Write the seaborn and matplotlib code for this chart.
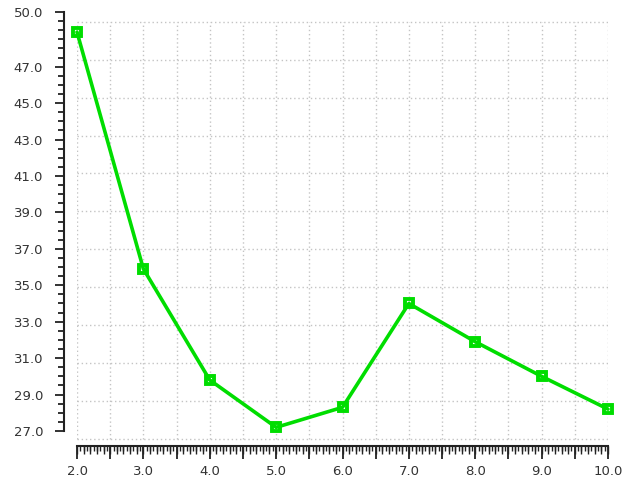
import numpy as np
import matplotlib
matplotlib.use("Agg")
import matplotlib.pyplot as plt
import seaborn as sns
from matplotlib.ticker import FixedLocator, FuncFormatter, NullFormatter

x_vals = [2, 3, 4, 5, 6, 7, 8, 9, 10]
y_vals = [48.9, 35.9, 29.8, 27.2, 28.3, 34.0, 31.9, 30.0, 28.2]
y_tick_vals = [27, 29, 31, 33, 35, 37, 39, 41, 43, 45, 47, 50]
x_tick_vals = [2, 3, 4, 5, 6, 7, 8, 9, 10]

sns.set_style("white")
plt.rcParams['font.family'] = ['DejaVu Sans']

W, H = 622, 479
fig = plt.figure(figsize=(W / 100, H / 100), dpi=100)
left, right, top_px, bot_px = 77, 608, 12, 446
ax = fig.add_axes([left / W, (H - bot_px) / H, (right - left) / W, (bot_px - top_px) / H])

ppu = 18.215
ymin = 27 - (bot_px - 431) / ppu
ymax = 27 + (431 - top_px) / ppu
ax.set_xlim(2, 10)
ax.set_ylim(ymin, ymax)

# plot-area dotted grid
grid_bot = 27 - (439 - 431) / ppu
grid_top = 27 + (431 - 21.7) / ppu
gc = "#c4c4c4"
for gx in np.arange(2, 10.01, 0.5):
    ax.plot([gx, gx], [grid_bot, grid_top], ls=(0, (1, 2)), color=gc, lw=1.0, zorder=1)
for gy in np.linspace(grid_bot, grid_top, 12):
    ax.plot([2, 10], [gy, gy], ls=(0, (1, 2)), color=gc, lw=1.0, zorder=1)

green = "#00dd00"
sns.lineplot(x=x_vals, y=y_vals, ax=ax, color=green, linewidth=2.6, marker='s',
             markersize=5.8, markerfacecolor='none', markeredgecolor=green,
             markeredgewidth=2.8, zorder=5, clip_on=False)

for s in ['top', 'right']:
    ax.spines[s].set_visible(False)
ax.spines['left'].set_position(('outward', 9.4))
ax.spines['left'].set_bounds(27, 50)
ax.spines['bottom'].set_bounds(2, 10)
for s in ['left', 'bottom']:
    ax.spines[s].set_color('#222222')
    ax.spines[s].set_linewidth(1.5)

ax.yaxis.set_major_locator(FixedLocator(y_tick_vals))
ax.yaxis.set_major_formatter(FuncFormatter(lambda v, p: f"{v:.1f}"))
ax.yaxis.set_minor_locator(FixedLocator(np.arange(27, 50.01, 0.5)))
ax.tick_params(axis='y', which='major', direction='out', length=6.5, width=1.3,
               color='#222222', labelsize=9.5, labelcolor='#333333', pad=8.5, left=True)
ax.tick_params(axis='y', which='minor', direction='out', length=4.3, width=1.3,
               color='#222222', left=True)

ax.xaxis.set_major_locator(FixedLocator(np.arange(2, 10.01, 0.5)))
ax.xaxis.set_major_formatter(FuncFormatter(
    lambda v, p: f"{v:.1f}" if abs(v - round(v)) < 1e-6 and round(v) in x_tick_vals else ""))
ax.xaxis.set_minor_locator(FixedLocator(np.arange(2, 10.001, 0.05)))
ax.tick_params(axis='x', which='major', direction='out', length=9, width=1.3,
               color='#222222', labelsize=9.5, labelcolor='#333333', pad=5, bottom=True)
ax.tick_params(axis='x', which='minor', direction='out', length=3.5, width=1.0,
               color='#222222', bottom=True)

# medium ticks every 0.1
ax2 = ax.twiny()
ax2.set_xlim(2, 10)
for s in ax2.spines.values():
    s.set_visible(False)
ax2.xaxis.set_ticks_position('bottom')
ax2.xaxis.set_major_locator(FixedLocator(np.arange(2, 10.001, 0.1)))
ax2.xaxis.set_major_formatter(NullFormatter())
ax2.tick_params(axis='x', which='major', direction='out', length=5.5, width=1.0,
                color='#222222', bottom=True, top=False)
ax2.xaxis.set_minor_locator(FixedLocator([]))

fig.savefig("out.png", dpi=100)
